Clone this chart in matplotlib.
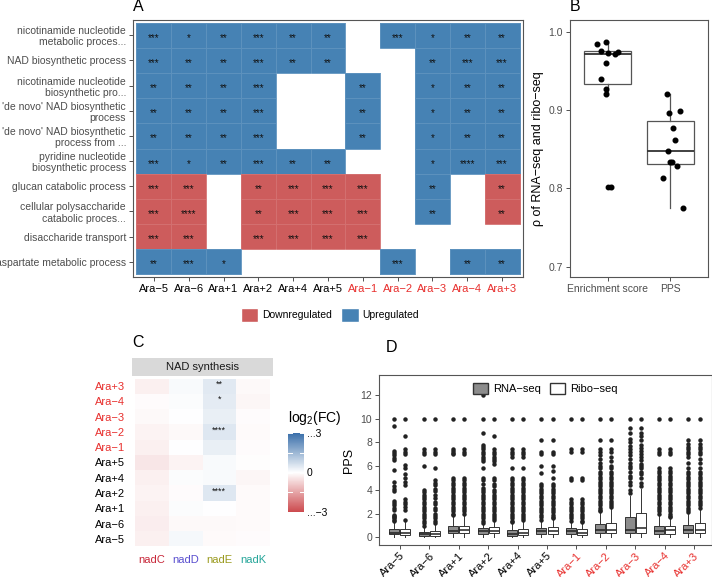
import numpy as np
import matplotlib
matplotlib.use("Agg")
import matplotlib.pyplot as plt
from matplotlib.colors import ListedColormap, LinearSegmentedColormap
from matplotlib.patches import Patch

plt.rcParams['font.family'] = ['Liberation Sans', 'DejaVu Sans']
plt.rcParams['mathtext.default'] = 'regular'

# ---------------- data ----------------
lines = ['Ara−5', 'Ara−6', 'Ara+1', 'Ara+2', 'Ara+4', 'Ara+5',
         'Ara−1', 'Ara−2', 'Ara−3', 'Ara−4', 'Ara+3']
line_red = [False] * 6 + [True] * 5

go_terms = ["nicotinamide nucleotide\nmetabolic proces...",
            "NAD biosynthetic process",
            "nicotinamide nucleotide\nbiosynthetic pro...",
            "'de novo' NAD biosynthetic\nprocess",
            "'de novo' NAD biosynthetic\nprocess from ...",
            "pyridine nucleotide\nbiosynthetic process",
            "glucan catabolic process",
            "cellular polysaccharide\ncatabolic proces...",
            "disaccharide transport",
            "aspartate metabolic process"]

# 1 = upregulated, -1 = downregulated, 0 = not enriched
go_dir = [[1, 1, 1, 1, 1, 1, 0, 1, 1, 1, 1],
          [1, 1, 1, 1, 1, 1, 0, 0, 1, 1, 1],
          [1, 1, 1, 1, 0, 0, 1, 0, 1, 1, 1],
          [1, 1, 1, 1, 0, 0, 1, 0, 1, 1, 1],
          [1, 1, 1, 1, 0, 0, 1, 0, 1, 1, 1],
          [1, 1, 1, 1, 1, 1, 0, 0, 1, 1, 1],
          [-1, -1, 0, -1, -1, -1, -1, 0, 1, 0, -1],
          [-1, -1, 0, -1, -1, -1, -1, 0, 1, 0, -1],
          [-1, -1, 0, -1, -1, -1, -1, 0, 0, 0, 0],
          [1, 1, 1, 0, 0, 0, 0, 1, 0, 1, 1]]
go_sig = [["***", "*", "**", "***", "**", "**", "", "***", "*", "**", "**"],
          ["***", "**", "**", "***", "**", "**", "", "", "**", "***", "***"],
          ["**", "**", "**", "***", "", "", "**", "", "*", "**", "**"],
          ["**", "**", "**", "***", "", "", "**", "", "*", "**", "**"],
          ["**", "**", "**", "***", "", "", "**", "", "*", "**", "**"],
          ["***", "*", "**", "***", "**", "**", "", "", "*", "****", "***"],
          ["***", "***", "", "**", "***", "***", "***", "", "**", "", "**"],
          ["***", "****", "", "**", "***", "***", "***", "", "**", "", "**"],
          ["***", "***", "", "***", "***", "***", "***", "", "", "", ""],
          ["**", "***", "*", "", "", "", "", "***", "", "**", "**"]]

# panel B
enrich_rho = [0.984, 0.987, 0.976, 0.973, 0.971, 0.974, 0.960, 0.940, 0.927, 0.920, 0.802]
enrich_jit = [-0.17, -0.02, -0.11, 0.0, 0.12, 0.17, -0.02, -0.11, -0.03, -0.03, 0.06]
pps_rho = [0.921, 0.896, 0.899, 0.877, 0.862, 0.848, 0.834, 0.834, 0.829, 0.813, 0.775]
pps_jit = [-0.06, -0.02, 0.16, 0.04, 0.08, -0.03, -0.01, 0.02, 0.10, -0.12, 0.20]

# panel C (rows bottom -> top)
c_rows = ['Ara−5', 'Ara−6', 'Ara+1', 'Ara+2', 'Ara+4', 'Ara+5',
          'Ara−1', 'Ara−2', 'Ara−3', 'Ara−4', 'Ara+3']
genes = ['nadC', 'nadD', 'nadE', 'nadK']
gene_colors = ['#C8283A', '#5A4FCF', '#9A9A1E', '#26A69A']
nadC = [-0.25, -0.30, -0.25, -0.20, -0.25, -0.40, -0.25, -0.20, -0.10, -0.05, -0.25]
nadD = [0.15, -0.10, 0.05, -0.05, 0.05, -0.20, 0.0, -0.10, 0.0, 0.05, 0.10]
nadE = [-0.08, -0.10, 0.0, 0.50, 0.10, 0.10, 0.35, 0.50, 0.35, 0.40, 0.45]
nadK = [-0.05, -0.08, -0.08, -0.08, -0.15, -0.03, -0.05, -0.08, -0.05, -0.15, -0.10]
nadE_sig = ["", "", "", "****", "", "", "", "****", "", "*", "**"]

# panel D box statistics
rna_q1 = [0.25, 0.12, 0.35, 0.30, 0.15, 0.30, 0.30, 0.35, 0.35, 0.30, 0.35]
rna_med = [0.40, 0.25, 0.55, 0.50, 0.30, 0.50, 0.50, 0.60, 0.60, 0.50, 0.60]
rna_q3 = [0.70, 0.45, 0.95, 0.75, 0.60, 0.80, 0.80, 1.10, 1.75, 0.95, 1.05]
rna_lo = [0.0, 0.0, 0.0, 0.0, 0.0, 0.0, 0.0, 0.0, 0.0, 0.0, 0.0]
rna_hi = [1.3, 0.9, 1.8, 1.1, 1.2, 1.4, 1.3, 2.1, 3.5, 1.9, 2.0]
ribo_q1 = [0.20, 0.15, 0.35, 0.35, 0.20, 0.30, 0.20, 0.35, 0.40, 0.30, 0.35]
ribo_med = [0.40, 0.30, 0.60, 0.55, 0.35, 0.55, 0.35, 0.65, 0.75, 0.60, 0.65]
ribo_q3 = [0.70, 0.55, 1.00, 0.90, 0.70, 0.90, 0.70, 1.25, 2.05, 0.95, 1.20]
ribo_lo = [0.0, 0.0, 0.0, 0.0, 0.0, 0.0, 0.0, 0.0, 0.0, 0.0, 0.0]
ribo_hi = [1.3, 1.1, 1.9, 1.4, 1.4, 1.5, 1.2, 2.5, 4.1, 1.6, 2.4]

rna_out = [
    [10, 9.4, 7.3, 7.1, 6.9, 6.7, 6.5, 5.7, 4.7, 4.3, 4.1, 3.9, 3.1, 2.9, 2.7, 2.5, 2.3, 1.9, 1.8, 1.7, 1.6, 1.5, 1.4],
    [10, 7.4, 7.2, 7.0, 6.0, 4.0, 3.8, 3.6, 3.4, 3.2, 3.0, 2.8, 2.6, 2.4, 2.2, 2.0, 1.8, 1.6, 1.4, 1.2, 1.0],
    [10, 7.4, 7.3, 7.1, 7.0, 5.0, 4.8, 4.6, 4.4, 4.2, 4.0, 3.8, 3.6, 3.4, 3.2, 3.0, 2.8, 2.6, 2.4, 2.2, 2.0, 1.9],
    [12, 10, 8.8, 7.8, 7.6, 7.4, 7.2, 7.0, 6.8, 6.6, 6.4, 5.8, 5.0, 4.8, 4.5, 4.2, 4.0, 3.8, 3.6, 3.4, 3.2, 3.0,
     2.8, 2.6, 2.4, 2.2, 2.0, 1.8, 1.6, 1.4, 1.2],
    [10, 7.4, 7.2, 7.0, 6.8, 5.8, 5.0, 4.8, 4.6, 4.4, 4.2, 4.0, 3.8, 3.6, 3.4, 3.2, 3.0, 2.8, 2.6, 2.4, 2.2, 2.0,
     1.8, 1.6, 1.4, 1.3],
    [10, 8.2, 7.2, 7.0, 6.0, 5.4, 4.5, 4.3, 4.1, 3.9, 3.7, 3.5, 3.3, 3.1, 2.9, 2.7, 2.5, 2.3, 2.1, 1.9, 1.7, 1.5],
    [10, 7.4, 7.2, 5.0, 4.8, 3.2, 3.0, 2.8, 2.6, 2.4, 2.2, 2.0, 1.8, 1.6, 1.4],
    [10, 8.2, 7.4, 7.2, 6.9, 6.6, 6.3, 6.0, 5.8, 5.5, 5.3, 5.1, 4.9, 4.7, 4.5, 4.3, 4.1, 3.9, 3.7, 3.5, 3.3, 3.1,
     2.9, 2.7, 2.5, 2.3, 2.2],
    [10, 9.2, 8.8, 8.3, 8.0, 7.7, 7.4, 7.2, 6.9, 6.6, 6.3, 6.0, 5.8, 5.5, 5.2, 5.0, 4.7, 4.4, 4.0, 3.7],
    [10, 7.4, 7.2, 7.0, 5.8, 5.6, 5.4, 5.2, 5.0, 4.8, 4.6, 4.4, 4.2, 4.0, 3.8, 3.6, 3.4, 3.2, 3.0, 2.8, 2.6, 2.4,
     2.2, 2.0],
    [10, 8.2, 7.9, 7.6, 7.4, 7.2, 7.0, 6.8, 6.3, 5.8, 5.5, 5.3, 5.1, 4.9, 4.7, 4.5, 4.3, 4.1, 3.9, 3.7, 3.5, 3.3,
     3.1, 2.9, 2.7, 2.5, 2.3, 2.1],
]
ribo_out = [
    [10, 8.5, 7.4, 7.2, 7.0, 6.1, 5.8, 5.3, 5.0, 4.7, 4.4, 3.2, 3.0, 2.8, 2.6, 2.3, 1.5],
    [10, 7.4, 7.2, 7.0, 5.8, 4.8, 4.6, 4.4, 4.1, 3.9, 3.6, 3.3, 3.0, 2.8, 2.5, 2.3, 2.0, 1.8, 1.6, 1.4, 1.2],
    [10, 7.4, 7.2, 7.0, 5.0, 4.8, 4.6, 4.4, 4.2, 4.0, 3.8, 3.6, 3.4, 3.2, 3.0, 2.8, 2.6, 2.4, 2.2, 2.0],
    [10, 8.5, 7.4, 7.2, 7.0, 6.8, 6.6, 6.4, 6.2, 5.0, 4.8, 4.5, 4.3, 4.0, 3.8, 3.6, 3.4, 3.2, 3.0, 2.8, 2.6, 2.4,
     2.2, 2.0, 1.8, 1.6, 1.5],
    [10, 7.4, 7.2, 7.0, 6.8, 5.8, 5.0, 4.8, 4.6, 4.4, 4.2, 4.0, 3.8, 3.6, 3.4, 3.2, 3.0, 2.8, 2.6, 2.4, 2.2, 2.0,
     1.8, 1.6, 1.5],
    [10, 8.2, 7.2, 7.0, 6.0, 5.6, 5.0, 4.5, 4.3, 4.1, 3.9, 3.7, 3.5, 3.3, 3.1, 2.9, 2.7, 2.5, 2.3, 2.1, 1.9, 1.7, 1.6],
    [10, 7.4, 7.2, 5.0, 4.8, 3.2, 3.0, 2.8, 2.6, 2.4, 2.2, 2.0, 1.8, 1.6, 1.4, 1.3],
    [10, 8.2, 7.4, 7.2, 6.8, 6.4, 6.0, 5.8, 5.5, 5.3, 5.1, 4.9, 4.7, 4.5, 4.3, 4.1, 3.9, 3.7, 3.5, 3.3, 3.1, 2.9,
     2.7, 2.6],
    [10, 9.2, 8.8, 8.5, 8.2, 7.8, 7.5, 7.3, 7.0, 6.8, 6.5, 6.2, 6.0, 5.8, 5.5, 5.3, 5.0, 4.6, 4.3],
    [10, 7.4, 7.2, 7.0, 5.8, 5.6, 5.4, 5.2, 5.0, 4.8, 4.6, 4.4, 4.2, 4.0, 3.8, 3.6, 3.4, 3.2, 3.0, 2.8, 2.6, 2.4,
     2.2, 2.0, 1.8, 1.7],
    [10, 8.2, 7.9, 7.6, 7.4, 7.2, 7.0, 6.6, 6.3, 5.8, 5.5, 5.3, 5.1, 4.9, 4.7, 4.5, 4.3, 4.1, 3.9, 3.7, 3.5, 3.3,
     3.1, 2.9, 2.7, 2.5],
]

# ---------------- figure ----------------
W, H = 712, 577
fig = plt.figure(figsize=(W / 100, H / 100), dpi=100)

RED = '#CD5C5C'
BLUE = '#4682B4'
LAB_RED = '#E8302E'
FRAME = '#555555'
TXT = '#4D4D4D'


def ax_px(l, t, r, b):
    return fig.add_axes([l / W, 1 - b / H, (r - l) / W, (b - t) / H])


def style_frame(ax):
    for s in ax.spines.values():
        s.set_color(FRAME)
        s.set_linewidth(0.8)
    ax.tick_params(length=3, width=0.6, color='#333333', labelsize=7.5, labelcolor=TXT, pad=2)


# ---- panel A ----
axA = ax_px(133, 20, 523, 277)
d = np.ma.masked_equal(np.array(go_dir), 0)
nr, nc = d.shape
axA.pcolormesh(np.arange(nc + 1) - 0.5, np.arange(nr + 1) - 0.5, d,
               cmap=ListedColormap([RED, BLUE]), vmin=-1, vmax=1,
               edgecolors=(1, 1, 1, 0.12), linewidth=0.5)
for i in range(nr):
    for j in range(nc):
        if go_sig[i][j]:
            axA.text(j, i + 0.1, go_sig[i][j], ha='center', va='center', fontsize=7, color='#111111')
axA.set_xlim(-0.6, nc - 0.4)
axA.set_ylim(nr - 0.4, -0.6)
axA.set_xticks(range(nc))
axA.set_xticklabels(lines)
axA.set_yticks(range(nr))
axA.set_yticklabels(go_terms, ha='right', linespacing=1.15)
style_frame(axA)
axA.tick_params(axis='x', labelsize=8)
for lab, red in zip(axA.get_xticklabels(), line_red):
    lab.set_color(LAB_RED if red else 'black')
axA.text(0, 1.025, 'A', transform=axA.transAxes, fontsize=11.5, va='bottom')
fig.legend(handles=[Patch(facecolor=RED, edgecolor='white', label='Downregulated'),
                    Patch(facecolor=BLUE, edgecolor='white', label='Upregulated')],
           loc='center', bbox_to_anchor=(330 / W, 1 - 315 / H), ncol=2, frameon=False,
           fontsize=7.5, handlelength=1.7, handleheight=1.7, columnspacing=0.8, handletextpad=0.4)

# ---- panel B ----
axB = ax_px(570, 20, 708, 277)
axB.boxplot([enrich_rho, pps_rho], positions=[1, 2], widths=0.75, patch_artist=True,
            boxprops=dict(facecolor='white', edgecolor=FRAME, linewidth=0.9),
            medianprops=dict(color='#333333', linewidth=1.3),
            whiskerprops=dict(color=FRAME, linewidth=0.9),
            capprops=dict(linewidth=0),
            flierprops=dict(marker='o', markerfacecolor='black', markeredgecolor='black', markersize=3.2))
axB.scatter(1 + np.array(enrich_jit), enrich_rho, s=11, color='black', zorder=3)
axB.scatter(2 + np.array(pps_jit), pps_rho, s=11, color='black', zorder=3)
axB.set_xlim(0.4, 2.6)
axB.set_ylim(0.687, 1.015)
axB.set_yticks([0.7, 0.8, 0.9, 1.0])
axB.set_xticks([1, 2])
axB.set_xticklabels(['Enrichment score', 'PPS'])
axB.set_ylabel('ρ of RNA−seq and ribo−seq', fontsize=9, labelpad=3)
style_frame(axB)
axB.text(0, 1.025, 'B', transform=axB.transAxes, fontsize=11.5, va='bottom')

# ---- panel C ----
axC = ax_px(132, 377, 273, 548)
cmap_c = LinearSegmentedColormap.from_list('rb', ['#CC4A4E', '#FFFFFF', '#3A6FAA'])
cvals = np.array([nadC, nadD, nadE, nadK]).T
mesh = axC.pcolormesh(np.arange(len(genes) + 1) - 0.5, np.arange(len(c_rows) + 1) - 0.5, cvals,
                      cmap=cmap_c, vmin=-3, vmax=3)
for i, s in enumerate(nadE_sig):
    if s:
        axC.text(2, i + 0.12, s, ha='center', va='center', fontsize=6.5, color='#111111')
axC.set_xlim(-0.6, len(genes) - 0.4)
axC.set_ylim(-0.6, len(c_rows) - 0.4)
axC.set_xticks(range(len(genes)))
axC.set_xticklabels(genes)
axC.set_yticks(range(len(c_rows)))
axC.set_yticklabels(c_rows)
for s in axC.spines.values():
    s.set_visible(False)
axC.tick_params(length=0, labelsize=8, pad=5)
for lab, col in zip(axC.get_xticklabels(), gene_colors):
    lab.set_color(col)
for lab, name in zip(axC.get_yticklabels(), c_rows):
    lab.set_color(LAB_RED if line_red[lines.index(name)] else 'black')
strip = ax_px(132, 358, 273, 376)
strip.set_facecolor('#D9D9D9')
strip.set_xticks([])
strip.set_yticks([])
for s in strip.spines.values():
    s.set_visible(False)
strip.text(0.5, 0.5, 'NAD synthesis', ha='center', va='center', fontsize=8, color='#1A1A1A')
axC.text(0, 1.155, 'C', transform=axC.transAxes, fontsize=11.5, va='bottom')

cax = ax_px(288, 433, 304, 512)
cb = fig.colorbar(mesh, cax=cax)
cb.outline.set_visible(False)
cb.set_ticks([-3, -1.5, 0, 1.5, 3])
cb.set_ticklabels(['...−3', '', '0', '', '...3'])
cax.tick_params(length=0, labelsize=7.5, pad=2)
for v in [-3, -1.5, 0, 1.5, 3]:
    cax.plot([0, 0.22], [v, v], color='white', lw=0.7, transform=cax.get_yaxis_transform())
    cax.plot([0.78, 1], [v, v], color='white', lw=0.7, transform=cax.get_yaxis_transform())
fig.text(288 / W, 1 - 418 / H, 'log$_2$(FC)', fontsize=10, va='center', ha='left')

# ---- panel D ----
axD = ax_px(379, 375, 712, 545)
pos = np.arange(1, len(lines) + 1)
rna_stats = [dict(q1=a, med=b, q3=c, whislo=e, whishi=f, fliers=g)
             for a, b, c, e, f, g in zip(rna_q1, rna_med, rna_q3, rna_lo, rna_hi, rna_out)]
ribo_stats = [dict(q1=a, med=b, q3=c, whislo=e, whishi=f, fliers=g)
              for a, b, c, e, f, g in zip(ribo_q1, ribo_med, ribo_q3, ribo_lo, ribo_hi, ribo_out)]
common = dict(widths=0.34, patch_artist=True, showcaps=False,
              medianprops=dict(color='#222222', linewidth=1.1),
              whiskerprops=dict(color='#333333', linewidth=0.7),
              flierprops=dict(marker='o', markersize=2.2, markerfacecolor='#222222',
                              markeredgecolor='#222222'))
axD.bxp(rna_stats, positions=pos - 0.19,
        boxprops=dict(facecolor='#8C8C8C', edgecolor='#333333', linewidth=0.7), **common)
axD.bxp(ribo_stats, positions=pos + 0.19,
        boxprops=dict(facecolor='white', edgecolor='#333333', linewidth=0.7), **common)
axD.set_xlim(0.29, len(lines) + 0.61)
axD.set_ylim(-0.64, 13.67)
axD.set_yticks([0, 2, 4, 6, 8, 10, 12])
axD.set_xticks(pos)
axD.set_xticklabels(lines, rotation=45, ha='right', rotation_mode='anchor')
style_frame(axD)
axD.tick_params(axis='x', labelsize=8, pad=1)
for lab, red in zip(axD.get_xticklabels(), line_red):
    lab.set_color(LAB_RED if red else 'black')
axD.set_ylabel('PPS', fontsize=9, labelpad=4)
axD.legend(handles=[Patch(facecolor='#8C8C8C', edgecolor='#333333', label='RNA−seq'),
                    Patch(facecolor='white', edgecolor='#333333', label='Ribo−seq')],
           loc='upper center', bbox_to_anchor=(0.5, 1.0), bbox_transform=axD.transAxes,
           ncol=2, frameon=False, fontsize=8, handlelength=1.3,
           handleheight=1.2, columnspacing=0.8, handletextpad=0.5, borderaxespad=0.3)
axD.text(0.02, 1.12, 'D', transform=axD.transAxes, fontsize=11.5, va='bottom')

fig.savefig('out.png', dpi=100)
